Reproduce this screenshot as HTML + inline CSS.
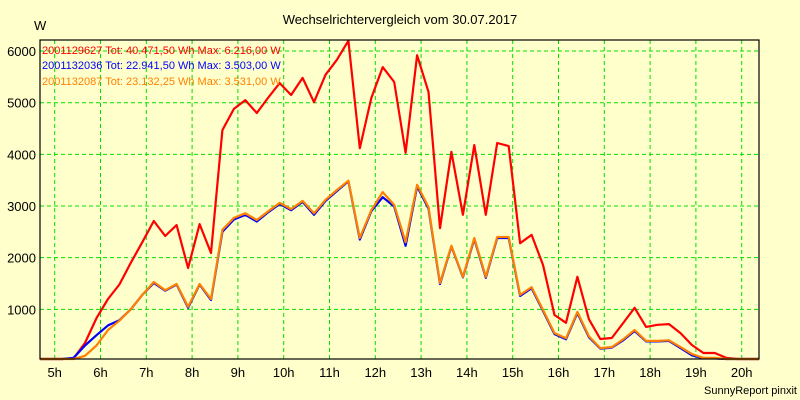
<!DOCTYPE html>
<html><head><meta charset="utf-8"><style>
body{margin:0;background:#FFFFCC;}
svg{display:block;font-family:"Liberation Sans",sans-serif;}
</style></head><body>
<svg id="chart" width="800" height="400">
<rect x="0" y="0" width="800" height="400" fill="#FFFFCC"/>
<text x="400" y="24" font-size="13" text-anchor="middle" fill="#000">Wechselrichtervergleich vom 30.07.2017</text>
<text x="34" y="30" font-size="13" fill="#000">W</text>
<g id="grid"></g>
<g id="series"></g>
<rect x="40" y="40" width="719" height="319" fill="none" stroke="#000" stroke-width="1.2"/>
<g id="labels"></g>
<text x="42" y="54" font-size="11" fill="#FF0000">2001129627 Tot: 40.471,50 Wh Max: 6.216,00 W</text>
<text x="42" y="69" font-size="11" fill="#0000FF">2001132036 Tot: 22.941,50 Wh Max: 3.503,00 W</text>
<text x="42" y="85" font-size="11" fill="#FF8000">2001132087 Tot: 23.132,25 Wh Max: 3.531,00 W</text>
<text x="797" y="394" font-size="11" text-anchor="end" fill="#000">SunnyReport pinxit</text>
</svg>
<script>
const hourTicks=[5,6,7,8,9,10,11,12,13,14,15,16,17,18,19,20];
const yTicks=[1000,2000,3000,4000,5000,6000];
const startTime=4.75;
const redValues=[0,0,0,50,350,830,1200,1480,1900,2300,2710,2420,2630,1800,2650,2090,4470,4880,5050,4800,5100,5380,5150,5480,5010,5540,5830,6200,4120,5090,5690,5400,4030,5920,5210,2570,4050,2830,4180,2830,4220,4160,2280,2440,1860,890,740,1630,810,425,445,735,1030,660,700,715,540,310,155,155,60,0,0,0,0,0,0];
const blueValues=[0,0,0,60,300,500,690,790,1000,1280,1510,1360,1480,1030,1480,1180,2500,2740,2830,2700,2880,3040,2920,3080,2830,3100,3290,3480,2350,2900,3170,2990,2230,3380,2950,1490,2220,1620,2360,1610,2380,2380,1260,1410,970,520,420,930,460,240,260,400,580,380,380,390,250,110,50,50,10,0,0,0,0,0,0];
const orangeValues=[0,0,0,0,100,300,600,780,1000,1280,1530,1370,1490,1050,1490,1200,2540,2770,2860,2730,2900,3060,2940,3100,2860,3120,3310,3490,2380,2920,3270,3020,2300,3410,2980,1510,2230,1630,2380,1630,2400,2400,1280,1430,990,540,440,950,480,250,270,420,600,390,390,400,270,135,60,60,20,0,0,0,0,0,0];
const NS='http://www.w3.org/2000/svg';
function xScale(t){return 54.7+(t-5)*45.8-4;}
function xTick(h){return 54.7+(h-5)*45.8;}
function yScale(v){return 361-v*0.05166;}
const grid=document.getElementById('grid');
const labels=document.getElementById('labels');
yTicks.forEach(v=>{
  const l=document.createElementNS(NS,'line');
  
  
  l.setAttribute('x1',40);l.setAttribute('x2',759);
  l.setAttribute('y1',yScale(v));l.setAttribute('y2',yScale(v));
  l.setAttribute('stroke','#00E000');l.setAttribute('stroke-dasharray','4,3');
  grid.appendChild(l);
  const t=document.createElementNS(NS,'text');
  
  
  t.setAttribute('x',36);t.setAttribute('y',yScale(v)+5);
  t.setAttribute('text-anchor','end');t.setAttribute('font-size','13');
  t.textContent=v;
  labels.appendChild(t);
});
hourTicks.forEach(h=>{
  const l=document.createElementNS(NS,'line');
  
  
  l.setAttribute('x1',xTick(h));l.setAttribute('x2',xTick(h));
  l.setAttribute('y1',40);l.setAttribute('y2',359);
  l.setAttribute('stroke','#00E000');l.setAttribute('stroke-dasharray','4,3');
  grid.appendChild(l);
  const t=document.createElementNS(NS,'text');
  
  
  t.setAttribute('x',xTick(h));t.setAttribute('y',377);
  t.setAttribute('text-anchor','middle');t.setAttribute('font-size','13');
  t.textContent=h+'h';
  labels.appendChild(t);
});
const series=document.getElementById('series');
function drawSeries(vals,color,name){
  const pts=vals.map((v,i)=>{
    let x=xScale(startTime+i*0.25);
    x=Math.max(40,Math.min(759,x));
    return x.toFixed(1)+','+Math.min(359,yScale(v)).toFixed(1);
  }).join(' ');
  const p=document.createElementNS(NS,'polyline');
  
  
  p.setAttribute('points',pts);
  p.setAttribute('fill','none');p.setAttribute('stroke',color);
  p.setAttribute('stroke-width','2.2');p.setAttribute('stroke-linejoin','round');
  series.appendChild(p);
}
drawSeries(redValues,'#FF0000','series-line-2001129627');
drawSeries(blueValues,'#0000FF','series-line-2001132036');
drawSeries(orangeValues,'#FF8000','series-line-2001132087');
</script>
</body></html>
